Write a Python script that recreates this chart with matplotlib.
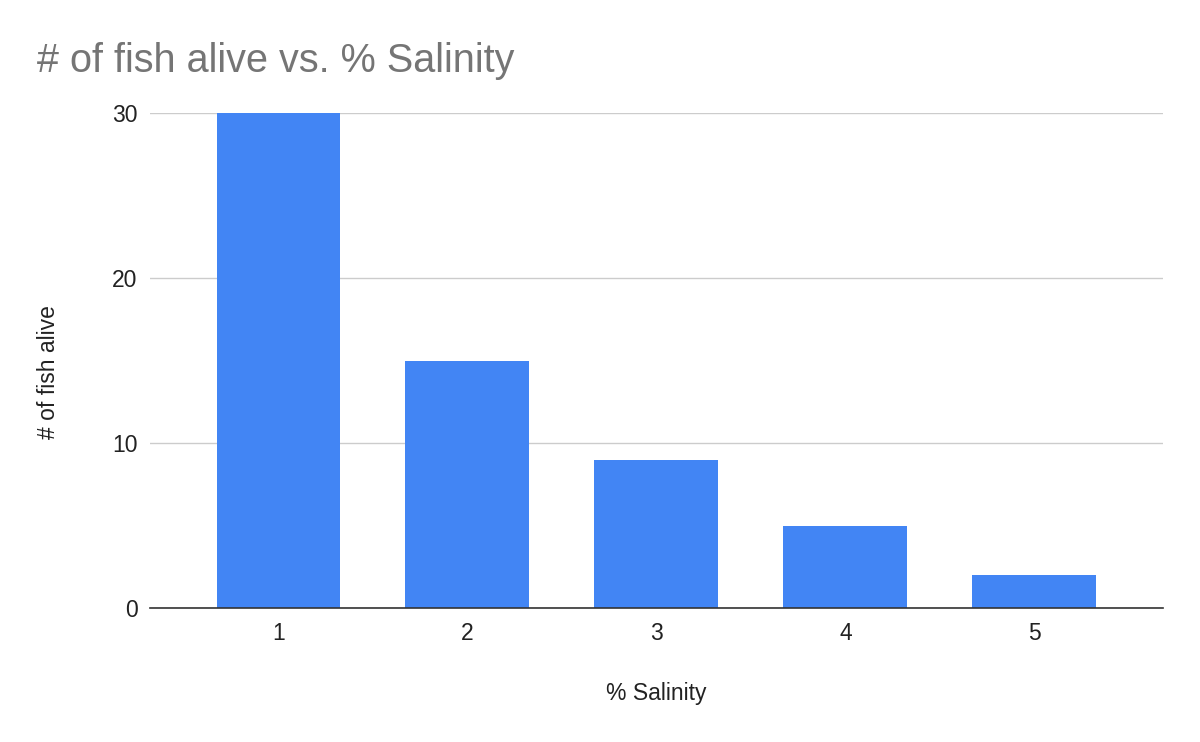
import matplotlib
matplotlib.use("Agg")
import matplotlib.pyplot as plt

# ── Data ─────────────────────────────────────────────────────────────────────
salinity = ["1", "2", "3", "4", "5"]
fish_alive = [30, 15, 9, 5, 2]
y_ticks = [0, 10, 20, 30]

plt.rcParams["font.family"] = ["Liberation Sans", "DejaVu Sans"]

fig = plt.figure(figsize=(12, 7.42), dpi=100)
ax = fig.add_axes([0.125, 0.1806, 0.844, 0.667])

x = list(range(1, len(salinity) + 1))
ax.bar(x, fish_alive, width=0.656, color="#4285f4", zorder=3)

ax.set_xlim(1 - 0.68, len(salinity) + 0.68)
ax.set_ylim(0, 30)
ax.set_xticks(x)
ax.set_xticklabels(salinity)
ax.set_yticks(y_ticks)

ax.grid(axis="y", color="#cccccc", linewidth=1, zorder=0)
for side in ("top", "right", "left"):
    ax.spines[side].set_visible(False)
ax.spines["bottom"].set_color("#333333")
ax.spines["bottom"].set_linewidth(1.2)
ax.spines["bottom"].set_zorder(4)

ax.tick_params(axis="both", length=0, labelsize=16.5, colors="#222222")
ax.tick_params(axis="x", pad=10)
ax.tick_params(axis="y", pad=9)

ax.set_xlabel("% Salinity", fontsize=16.5, color="#222222", labelpad=27)
ax.set_ylabel("# of fish alive", fontsize=16.5, color="#222222")
ax.yaxis.set_label_coords(-0.089, 0.477)

fig.text(0.031, 0.918, "# of fish alive vs. % Salinity", fontsize=28.5,
         color="#757575", ha="left", va="center")

fig.savefig("out.png", dpi=100)
